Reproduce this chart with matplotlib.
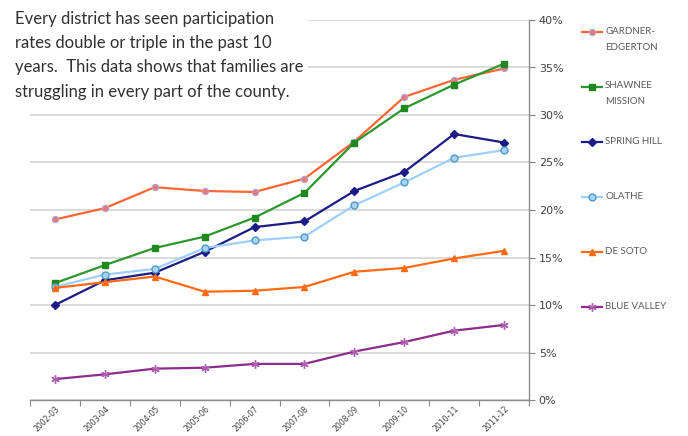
import numpy as np
import matplotlib
matplotlib.use("Agg")
import matplotlib.pyplot as plt
from matplotlib.lines import Line2D

# school years on the x axis
years = ["2002-03", "2003-04", "2004-05", "2005-06", "2006-07",
         "2007-08", "2008-09", "2009-10", "2010-11", "2011-12"]

# participation rates (%)
gardner = [19.0, 20.2, 22.4, 22.0, 21.9, 23.3, 27.2, 31.9, 33.7, 34.9]
shawnee = [12.3, 14.2, 16.0, 17.2, 19.2, 21.8, 27.1, 30.7, 33.2, 35.4]
spring_hill = [10.0, 12.6, 13.4, 15.6, 18.2, 18.8, 22.0, 24.0, 28.0, 27.1]
olathe = [11.9, 13.2, 13.8, 16.0, 16.8, 17.2, 20.5, 22.9, 25.5, 26.3]
de_soto = [11.8, 12.4, 13.0, 11.4, 11.5, 11.9, 13.5, 13.9, 14.9, 15.7]
blue_valley = [2.2, 2.7, 3.3, 3.4, 3.8, 3.8, 5.1, 6.1, 7.3, 7.9]

labels = ["GARDNER-\nEDGERTON", "SHAWNEE\nMISSION", "SPRING HILL",
          "OLATHE", "DE SOTO", "BLUE VALLEY"]
series = [gardner, shawnee, spring_hill, olathe, de_soto, blue_valley]

yticks = [0, 5, 10, 15, 20, 25, 30, 35, 40]

# line colours and markers, one per series (Excel-like)
colors = ["#FF6633", "#2E962E", "#1C1C86", "#9FCFFA", "#FF6A13", "#8E2C8E"]
markers = [
    dict(marker="o", ms=4.5, mfc="#F27A6A", mec="#A9A2F0", mew=0.8),
    dict(marker="s", ms=5, mfc="#1E8A1E", mec="#1E8A1E"),
    dict(marker="D", ms=4.5, mfc="#1C1C86", mec="#1C1C86"),
    dict(marker="o", ms=5, mfc="#A8D3F2", mec="#4C9CCB", mew=1.0),
    dict(marker="^", ms=4.5, mfc="#FF6A13", mec="#FF6A13"),
    dict(marker=(6, 2, 0), ms=6, mfc="#8E2C8E", mec="#B060B0", mew=1.0),
]

W, H = 688, 436
fig = plt.figure(figsize=(W / 100, H / 100), dpi=100)
fig.patch.set_facecolor("white")
ax = fig.add_axes([30 / W, 36 / H, 499 / W, 380 / H])

x = np.arange(len(years))
for vals, c, mk in zip(series, colors, markers):
    ax.plot(x, vals, lw=1.6, color=c, **mk, zorder=3)

ax.set_xlim(-0.5, len(years) - 0.5)
ax.set_ylim(0, 40)

# y axis on the right
ax.yaxis.tick_right()
ax.set_yticks(yticks)
ax.set_yticklabels([f"{v}%" for v in yticks], fontsize=8, color="#404040")
ax.tick_params(axis="y", length=4, width=0.8, color="#888888", pad=3)
ax.grid(axis="y", color="#D4D4D4", lw=1.2, zorder=0)

# category ticks at boundaries, labels at centers
ax.set_xticks(x)
ax.set_xticklabels(years, rotation=45, ha="right", va="top",
                   rotation_mode="anchor", fontsize=5.6, color="#404040")
ax.tick_params(axis="x", which="major", length=0, pad=3)
ax.set_xticks(np.arange(-0.5, len(years), 1), minor=True)
ax.tick_params(axis="x", which="minor", length=4, width=0.8, color="#888888")

for s in ["top", "left"]:
    ax.spines[s].set_visible(False)
for s in ["bottom", "right"]:
    ax.spines[s].set_color("#8C8C8C")
    ax.spines[s].set_linewidth(1.0)

# legend, Excel style: handle on first line, even spacing
for i, (lab, c, mk) in enumerate(zip(labels, colors, markers)):
    yy = 1 - (32 + 55 * i) / H
    fig.add_artist(Line2D([582 / W, 602 / W], [yy, yy], lw=1.6, color=c,
                          transform=fig.transFigure))
    fig.add_artist(Line2D([592 / W], [yy], lw=0, transform=fig.transFigure, **mk))
    fig.text(605 / W, yy + 5.5 / H, lab, fontsize=7, color="#595959",
             family="Lato", va="top", ha="left", linespacing=2.0)

note = ("Every district has seen participation\n"
        "rates double or triple in the past 10\n"
        "years.  This data shows that families are\n"
        "struggling in every part of the county.")
fig.text(15 / W, 1 - 11 / H, note, fontsize=12, color="#303030",
         family="Lato", va="top", ha="left", linespacing=1.63,
         bbox=dict(facecolor="white", edgecolor="none", pad=3), zorder=5)

fig.savefig("out.png", dpi=100, facecolor="white")
